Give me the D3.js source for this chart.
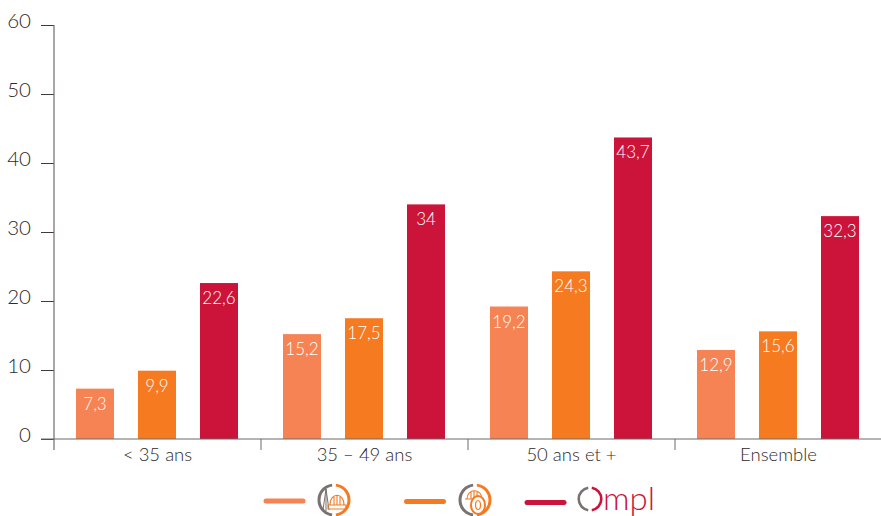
<!DOCTYPE html>
<html><head><meta charset="utf-8">
<script src="https://cdn.jsdelivr.net/npm/d3@7"></script>
<style>html,body{margin:0;padding:0;background:#fff}svg{display:block}text{font-family:Lato,"Open Sans",sans-serif}</style>
</head><body><svg id="c" width="881" height="516"></svg>
<script>
const categories = ["< 35 ans", "35 – 49 ans", "50 ans et +", "Ensemble"];
const seriesNames = ["a", "b", "c"];
const seriesA = [7.3, 15.2, 19.2, 12.9];
const seriesB = [9.9, 17.5, 24.3, 15.6];
const seriesC = [22.6, 34, 43.7, 32.3];
const labelsA = ["7,3", "15,2", "19,2", "12,9"];
const labelsB = ["9,9", "17,5", "24,3", "15,6"];
const labelsC = ["22,6", "34", "43,7", "32,3"];
const yTicks = [0, 10, 20, 30, 40, 50, 60];
const colors = ["#f58354", "#f57a20", "#cc1339"];
const axisColor = "#6f6a68", textColor = "#2f2a29";

const svg = d3.select("#c");
const y = d3.scaleLinear().domain([0, 60]).range([439, 25]);
const x0 = d3.scaleBand().domain(categories).range([54, 882]);
const x1 = d3.scaleBand().domain(seriesNames).range([-0.5, x0.bandwidth() - 0.5]).paddingInner(0.387).paddingOuter(0.363);

// Bars
const series = [[seriesA, labelsA], [seriesB, labelsB], [seriesC, labelsC]];
series.forEach(([vals, labs], s) => {
  const g = svg.append("g");
  const bx = i => x0(categories[i]) + x1(seriesNames[s]);
  g.selectAll("rect").data(vals).join("rect")
    .attr("x", (d, i) => bx(i)).attr("width", x1.bandwidth())
    .attr("y", d => y(d)).attr("height", d => y(0) - y(d)).attr("fill", colors[s]);
  g.selectAll("text").data(vals).join("text")
    .attr("x", (d, i) => bx(i) + x1.bandwidth() / 2).attr("y", d => y(d) + 21)
    .attr("text-anchor", "middle").attr("fill", "#fff").attr("font-size", 17).attr("font-weight", 300)
    .text((d, i) => labs[i]);
});

// Y axis
const yAxis = d3.axisLeft(y).tickValues(yTicks).tickSize(13).tickPadding(10).tickFormat(d3.format("d"));
const ya = svg.append("g").attr("transform", "translate(54,0)").call(yAxis);
ya.select(".domain").remove();
ya.selectAll("line").attr("stroke", "#3f3a39").attr("stroke-width", 1);
ya.selectAll("text").attr("fill", textColor).attr("font-size", 20.5).attr("font-weight", 300).attr("dy", "0.12em");
svg.append("line").attr("x1", 54).attr("x2", 54).attr("y1", y(60)).attr("y2", 450).attr("stroke", axisColor).attr("stroke-width", 1.2);

// X axis
svg.append("line").attr("x1", 41).attr("x2", 881).attr("y1", y(0)).attr("y2", y(0)).attr("stroke", axisColor).attr("stroke-width", 1.2);
const xa = d3.axisBottom(x0).tickSize(0).tickPadding(9);
const xg = svg.append("g").attr("transform", `translate(0,${y(0)})`).call(xa);
xg.select(".domain").remove();
xg.selectAll("text").attr("fill", textColor).attr("font-size", 18.5).attr("font-weight", 300);
svg.selectAll(".sep").data(categories.slice(1)).join("line").attr("class", "sep")
  .attr("x1", d => x0(d)).attr("x2", d => x0(d)).attr("y1", y(0)).attr("y2", 450)
  .attr("stroke", axisColor).attr("stroke-width", 1);

// Legend
const legendLines = [[266, 303, 501, colors[0]], [406.5, 443.5, 501.5, colors[1]], [527, 564, 502.5, colors[2]]];
svg.selectAll(".leg").data(legendLines).join("line").attr("class", "leg")
  .attr("x1", d => d[0]).attr("x2", d => d[1]).attr("y1", d => d[2]).attr("y2", d => d[2])
  .attr("stroke", d => d[3]).attr("stroke-width", 5).attr("stroke-linecap", "round");

const arc = d3.arc();
function ring(cx, cy, r, w, colL, colR) {
  const g = svg.append("g").attr("transform", `translate(${cx},${cy})`);
  g.append("path").attr("d", arc({innerRadius: r - w, outerRadius: r, startAngle: -Math.PI * 0.96, endAngle: -Math.PI * 0.04})).attr("fill", colL);
  g.append("path").attr("d", arc({innerRadius: r - w, outerRadius: r, startAngle: Math.PI * 0.04, endAngle: Math.PI * 0.96})).attr("fill", colR);
  return g;
}
// icon 1 : surveyor + helmet
const i1 = ring(334, 500, 16.5, 3, "#7a7270", colors[1]);
i1.append("path").attr("d", "M-8,-11V11M-8,-11L-11,10M-8,-11L-5,10").attr("stroke", "#7a7270").attr("stroke-width", 1).attr("fill", "none");
i1.append("path").attr("d", "M-4,5C-4,-8 10,-8 10,5ZM-6,5H12V9H-6ZM3,-5V5M0,-4V5M6,-4V5").attr("stroke", colors[1]).attr("stroke-width", 1.1).attr("fill", "none");
// icon 2 : helmet + wheel
const i2 = ring(475, 500, 16.5, 3, "#7a7270", colors[1]);
i2.append("path").attr("d", "M-8,-1C-8,-12 7,-12 7,-1ZM-10,-1H8M-1,-9V-1M-4,-8V-1M2,-8V-1").attr("stroke", colors[1]).attr("stroke-width", 1.1).attr("fill", "none");
i2.append("ellipse").attr("cx", 3).attr("cy", 5).attr("rx", 7).attr("ry", 9).attr("stroke", colors[1]).attr("stroke-width", 2).attr("fill", "#fff");
i2.append("ellipse").attr("cx", 3).attr("cy", 5).attr("rx", 2.5).attr("ry", 4.5).attr("stroke", colors[1]).attr("stroke-width", 1.2).attr("fill", "none");
// logo
const logo = svg.append("g").attr("transform", "translate(590,499)");
logo.append("path").attr("d", arc({innerRadius: 10, outerRadius: 12.6, startAngle: -Math.PI * 0.95, endAngle: -Math.PI * 0.05})).attr("fill", "#7a7270");
logo.append("path").attr("d", arc({innerRadius: 10, outerRadius: 12.6, startAngle: Math.PI * 0.05, endAngle: Math.PI * 0.95})).attr("fill", colors[2]);
svg.append("text").attr("x", 603).attr("y", 510).attr("fill", colors[2]).attr("font-size", 32).attr("font-weight", 300).attr("textLength", 52).attr("lengthAdjust", "spacingAndGlyphs").text("mpl");
</script></body></html>
